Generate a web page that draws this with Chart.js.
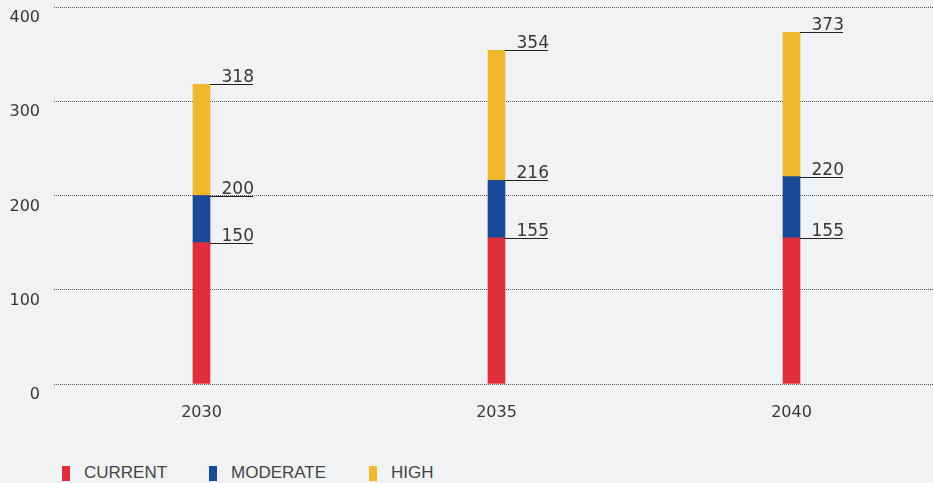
<!DOCTYPE html>
<html>
<head>
<meta charset="utf-8">
<script src="https://cdn.jsdelivr.net/npm/chart.js@4"></script>
<style>
  html, body { margin: 0; padding: 0; background: #f1f2f4; overflow: hidden; width: 933px; height: 483px; }
  #wrap { position: absolute; left: 0; top: 0; width: 939px; height: 440px; }
  #legend { position: absolute; left: 0; top: 462px; font-family: "Liberation Sans", Arial, sans-serif; font-size: 17px; color: #444; }
  .item { position: absolute; top: 0; white-space: nowrap; }
  .sw { position: absolute; top: 4px; width: 8px; height: 15px; }
  .lb { position: absolute; top: 1px; }
</style>
</head>
<body>
<div id="wrap"><canvas id="chart"></canvas></div>
<div id="legend"></div>
<script>
const years = ["2030", "2035", "2040"];
const seriesNames = ["CURRENT", "MODERATE", "HIGH"];
// stacked tops, as labelled on the chart
const currentTop = [150, 155, 155];
const moderateTop = [200, 216, 220];
const highTop = [318, 354, 373];
const yTicks = [0, 100, 200, 300, 400];
const colors = ["#e02f3b", "#184a97", "#f0b92d"];

const tops = [currentTop, moderateTop, highTop];
const digitFont = '"DejaVu Sans", sans-serif';

const datasets = tops.map((arr, i) => ({
    label: seriesNames[i],
    data: arr.map((v, j) => [i === 0 ? 0 : tops[i - 1][j], v]),
    backgroundColor: colors[i],
    barThickness: 17,
    grouped: false
}));

const leaderLabels = {
    id: "leaderLabels",
    afterDatasetsDraw(chart) {
        const ctx = chart.ctx;
        ctx.save();
        ctx.font = "17px " + digitFont;
        ctx.fillStyle = "#383838";
        ctx.strokeStyle = "#222";
        ctx.lineWidth = 1;
        ctx.textAlign = "right";
        ctx.textBaseline = "alphabetic";
        chart.data.datasets.forEach((ds, i) => {
            chart.getDatasetMeta(i).data.forEach((bar, j) => {
                const y = Math.round(bar.y) + 0.5;
                const x0 = bar.x + bar.width / 2;
                ctx.beginPath();
                ctx.moveTo(x0, y);
                ctx.lineTo(x0 + 43, y);
                ctx.stroke();
                ctx.fillText(String(tops[i][j]), x0 + 44, y - 3);
            });
        });
        ctx.restore();
    }
};

new Chart(document.getElementById("chart"), {
    type: "bar",
    data: { labels: years, datasets: datasets },
    options: {
        responsive: true,
        maintainAspectRatio: false,
        animation: false,
        layout: { padding: { top: 7, left: 0, right: 0, bottom: 0 } },
        plugins: { legend: { display: false }, tooltip: { enabled: false } },
        scales: {
            x: {
                grid: { display: false },
                border: { display: false },
                ticks: { color: "#383838", font: { family: digitFont, size: 16 }, padding: 11 },
                afterFit: (s) => { s.height = 56; s.paddingLeft = 0; s.paddingRight = 0; }
            },
            y: {
                min: 0,
                max: 400,
                afterBuildTicks: (s) => { s.ticks = yTicks.map(v => ({ value: v })); },
                grid: { color: "#555", drawTicks: false },
                border: { display: false, dash: [1, 1] },
                ticks: { color: "#383838", font: { family: digitFont, size: 16 }, padding: 14, labelOffset: 11 },
                afterFit: (s) => { s.width = 54; s.paddingTop = 0; s.paddingBottom = 0; }
            }
        }
    },
    plugins: [leaderLabels]
});

const legend = document.getElementById("legend");
const swX = [62, 209, 369];
seriesNames.forEach((name, i) => {
    const it = document.createElement("div");
    it.className = "item";
    it.style.left = swX[i] + "px";
    it.innerHTML = '<span class="sw" style="left:0;background:' + colors[i] + '"></span><span class="lb" style="left:22px">' + name + '</span>';
    legend.appendChild(it);
});
</script>
</body>
</html>
